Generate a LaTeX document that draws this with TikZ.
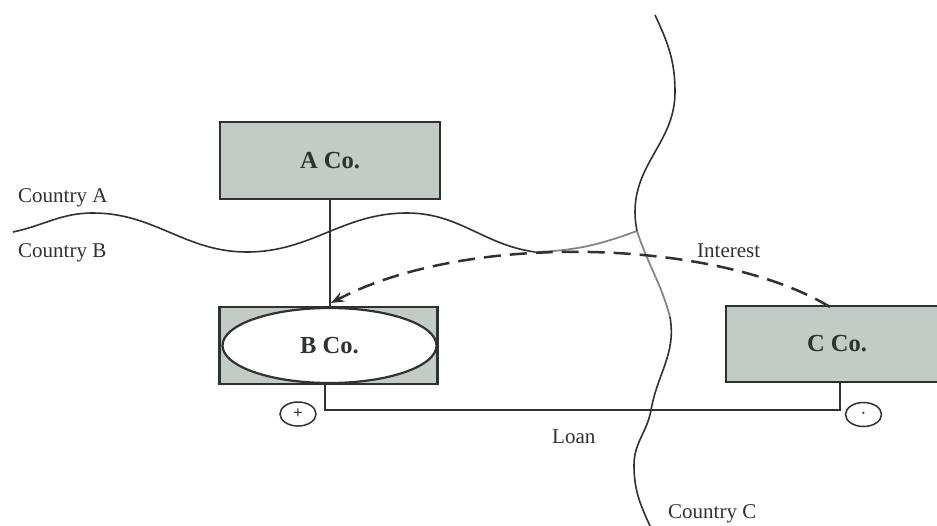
\documentclass[tikz,border=0pt]{standalone}
\usepackage{fontspec}
\setmainfont{Liberation Serif}
\usetikzlibrary{arrows.meta,shapes.geometric}
\definecolor{boxfill}{HTML}{C2CBC6}
\definecolor{ink}{HTML}{2E3330}
\definecolor{fadeline}{HTML}{858585}
\tikzset{
  cobox/.style={draw=ink, line width=2.8pt, fill=boxfill, inner sep=0pt,
    font=\fontsize{24.5}{28}\selectfont\bfseries, text=ink},
  bell/.style={ellipse, draw=ink, line width=2.2pt, fill=white, inner sep=0pt,
    font=\fontsize{24.5}{28}\selectfont\bfseries, text=ink},
  lbl/.style={anchor=base west, inner sep=0pt, font=\fontsize{21}{25}\selectfont, text=ink},
  border/.style={draw=ink, line width=1.6pt},
  fadeborder/.style={draw=fadeline, line width=1.8pt},
  link/.style={draw=ink, line width=1.5pt},
  interest/.style={draw=ink, line width=2.5pt, dash pattern=on 17pt off 9pt,
    -{Stealth[length=13pt,width=10pt]}},
  sign/.style={ellipse, draw=ink, line width=1.5pt, minimum width=36pt, minimum height=24pt, inner sep=0pt,
    font=\fontsize{17}{18}\selectfont\bfseries, text=ink}
}
\begin{document}
\begin{tikzpicture}[x=1pt,y=-1pt]
\useasboundingbox (0,0) rectangle (937,525);
\clip (0,0) rectangle (937,525);
\fill[white] (0,0) rectangle (937,525);

% boxes
\node[cobox, minimum width=220pt, minimum height=77pt] (A) at (330,160.5) {A Co.};
\node[cobox, minimum width=218pt, minimum height=77pt] (Bbox) at (328.5,345.5) {};
\node[bell, minimum width=214pt, minimum height=75pt] (B) at (329.5,345.5) {B Co.};
\node[cobox, minimum width=224pt, minimum height=76pt, text width=0pt] (Cbox) at (838,344) {};
\node[font=\fontsize{24.5}{28}\selectfont\bfseries, text=ink, inner sep=0pt] (C) at (837,344) {C Co.};

% country borders
\draw[border] (13,232) to[out=12,in=180] (93,213) to[out=0,in=180] (247,252)
  to[out=0,in=180] (407,213) to[out=0,in=172] (535,252);
\draw[fadeborder] (535,252) to[out=2,in=200] (637,231);
\draw[border] (655,15) to[out=-65,in=90] (675,92) to[out=-90,in=90] (635,212) to[out=-90,in=100] (637,231);
\draw[fadeborder] (637,231) to[out=-72,in=105] (670,317);
\draw[border] (670,317) to[out=-80,in=80] (651,410) to[out=-100,in=90] (634,465) to[out=-90,in=115] (651,528);

% ownership line
\draw[link] (A.south) -- (A.south |- Bbox.north);

% loan
\coordinate (lb) at (325,384);
\coordinate (lbd) at (325,410);
\coordinate (lcd) at (840,410);
\coordinate (lc) at (840,382);
\draw[link] (lb) -- (lbd) -- (lcd) -- (lc);

% interest
\coordinate (cstart) at (830,307);
\coordinate (btip) at (331,303);
\draw[interest] (cstart) .. controls (720,240) and (470,230) .. (btip);

% signs
\node[sign] (plus) at (298,414) {\raisebox{1pt}{+}};
\node[sign] (minus) at (863.5,414.5) {\fontsize{22}{22}\selectfont\raisebox{2pt}{$\cdot$}};

% labels
\node[lbl] (lA) at (18,202) {Country A};
\node[lbl] (lB) at (18,257) {Country B};
\node[lbl] (lC) at (668,518) {Country C};
\node[lbl] (lI) at (697,257) {Interest};
\node[lbl] (lL) at (552,443) {Loan};
\end{tikzpicture}
\end{document}
